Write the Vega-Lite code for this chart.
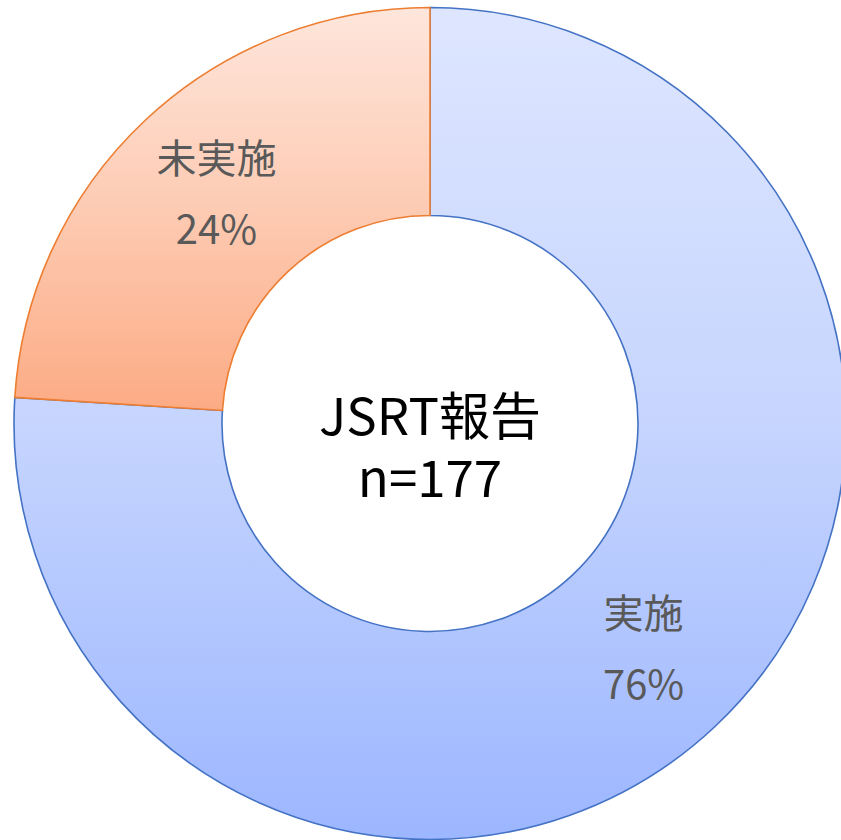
{
  "$schema": "https://vega.github.io/schema/vega-lite/v6.json",
  "width": 860,
  "height": 847,
  "autosize": {"type": "none"},
  "padding": 0,
  "background": "white",
  "config": {"view": {"stroke": null}},
  "data": {"values": [
    {"label": "実施", "value": 76, "pct": "76%"},
    {"label": "未実施", "value": 24, "pct": "24%"}
  ]},
  "encoding": {
    "theta": {"field": "value", "type": "quantitative", "stack": true},
    "order": {"field": "value", "type": "quantitative", "sort": "descending"}
  },
  "layer": [
    {
      "mark": {"type": "arc", "outerRadius": 416, "innerRadius": 208, "strokeWidth": 1.6},
      "encoding": {
        "fill": {
          "condition": {
            "test": "datum.label === '実施'",
            "value": {"gradient": "linear", "x1": 0, "y1": 0, "x2": 0, "y2": 1,
              "stops": [{"offset": 0, "color": "#dee6ff"}, {"offset": 0.5, "color": "#c6d5fe"}, {"offset": 1, "color": "#9cb6ff"}]}
          },
          "value": {"gradient": "linear", "x1": 0, "y1": 0, "x2": 0, "y2": 1,
            "stops": [{"offset": 0, "color": "#fee6dc"}, {"offset": 0.5, "color": "#fdcbb3"}, {"offset": 1, "color": "#fcab84"}]}
        },
        "stroke": {
          "condition": {"test": "datum.label === '実施'", "value": "#4472C4"},
          "value": "#ED7D31"
        }
      }
    },
    {
      "mark": {"type": "text", "radius": 312, "dy": -35, "font": "Noto Sans CJK JP", "fontSize": 40, "color": "#595959"},
      "encoding": {"text": {"field": "label"}}
    },
    {
      "mark": {"type": "text", "radius": 312, "dy": 36, "font": "Noto Sans CJK JP", "fontSize": 40, "color": "#595959"},
      "encoding": {"text": {"field": "pct"}}
    },
    {
      "data": {"values": [{"title": "JSRT報告"}]},
      "mark": {"type": "text", "dy": -4, "font": "Noto Sans CJK JP", "fontSize": 51, "color": "#000000", "baseline": "middle"},
      "encoding": {"text": {"field": "title"}, "theta": null, "order": null}
    },
    {
      "data": {"values": [{"title": "n=177"}]},
      "mark": {"type": "text", "dy": 58, "font": "Noto Sans CJK JP", "fontSize": 51, "color": "#000000", "baseline": "middle"},
      "encoding": {"text": {"field": "title"}, "theta": null, "order": null}
    }
  ]
}
